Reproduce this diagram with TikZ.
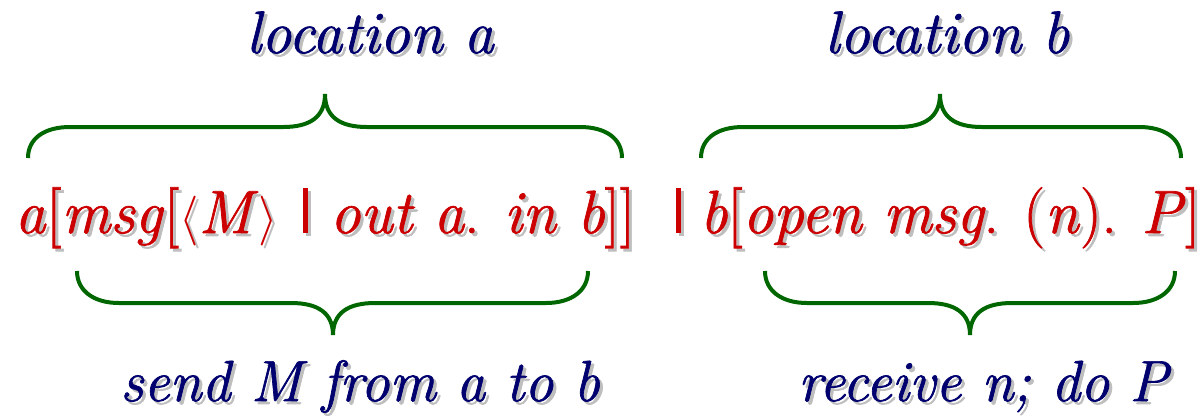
\documentclass[tikz,border=0pt]{standalone}
\usepackage{fontspec}
\setmainfont{Latin Modern Roman}[FakeBold=1.2]
\usetikzlibrary{calc}
\definecolor{procred}{RGB}{204,0,0}
\definecolor{labelblue}{RGB}{0,0,110}
\definecolor{bracegreen}{RGB}{0,102,0}
\definecolor{shadowgray}{RGB}{190,190,190}
\newcommand\stxt[4]{%
  \node[#3,text=shadowgray] at ($(#2)+(3,3)$) {#4};
  \node[#3] (#1) at (#2) {#4};}
\begin{document}
\begin{tikzpicture}[x=0.5pt,y=-0.5pt,
  proc/.style={anchor=base west,inner sep=0pt,outer sep=0pt,text=procred,font=\fontsize{30.5}{34}\selectfont},
  lab/.style={anchor=base,inner sep=0pt,outer sep=0pt,text=labelblue,font=\fontsize{30}{32}\selectfont\itshape},
  lowlab/.style={lab,font=\fontsize{29}{32}\selectfont\itshape},
  brace/.style={draw=bracegreen,line width=2pt}]
\useasboundingbox (0,0) rectangle (1201,419);
% top labels
\stxt{la}{370,53}{lab}{location a}
\stxt{lb}{947,53}{lab}{location b}
% main line
\stxt{p1}{15,233}{proc}{\textit{a}[\textit{msg}[$\langle$\textit{M}$\rangle$}
\stxt{bar1}{303,233}{proc}{\rule{2.5pt}{22.5pt}}
\stxt{p2}{330,233}{proc}{\textit{out a}. \textit{in b}]]}
\stxt{bar2}{676,233}{proc}{\rule{2.5pt}{22.5pt}}
\stxt{p3}{700,233}{proc}{\textit{b}[\textit{open msg}. (\textit{n}). \textit{P}]}
% bottom labels
\stxt{sa}{360,401}{lowlab}{send M from a to b}
\stxt{sb}{983,401}{lowlab}{receive n; do P}
% top braces
\draw[brace] (28,158) .. controls (28,138) and (45,127) .. (70,127) -- (283,127)
  .. controls (310,127) and (325,117) .. (325,94)
  .. controls (325,117) and (340,127) .. (367,127) -- (580,127)
  .. controls (605,127) and (622,138) .. (622,158);
\draw[brace] (701,158) .. controls (701,138) and (718,127) .. (743,127) -- (898,127)
  .. controls (925,127) and (940,117) .. (940,94)
  .. controls (940,117) and (955,127) .. (982,127) -- (1139,127)
  .. controls (1164,127) and (1181,138) .. (1181,158);
% bottom braces
\draw[brace] (77,271) .. controls (77,291) and (94,303) .. (119,303) -- (291,303)
  .. controls (318,303) and (333,313) .. (333,335)
  .. controls (333,313) and (348,303) .. (375,303) -- (546,303)
  .. controls (571,303) and (588,291) .. (588,271);
\draw[brace] (765,271) .. controls (765,291) and (782,303) .. (807,303) -- (928,303)
  .. controls (955,303) and (970,313) .. (970,335)
  .. controls (970,313) and (985,303) .. (1012,303) -- (1133,303)
  .. controls (1158,303) and (1175,291) .. (1175,271);
\end{tikzpicture}
\end{document}
